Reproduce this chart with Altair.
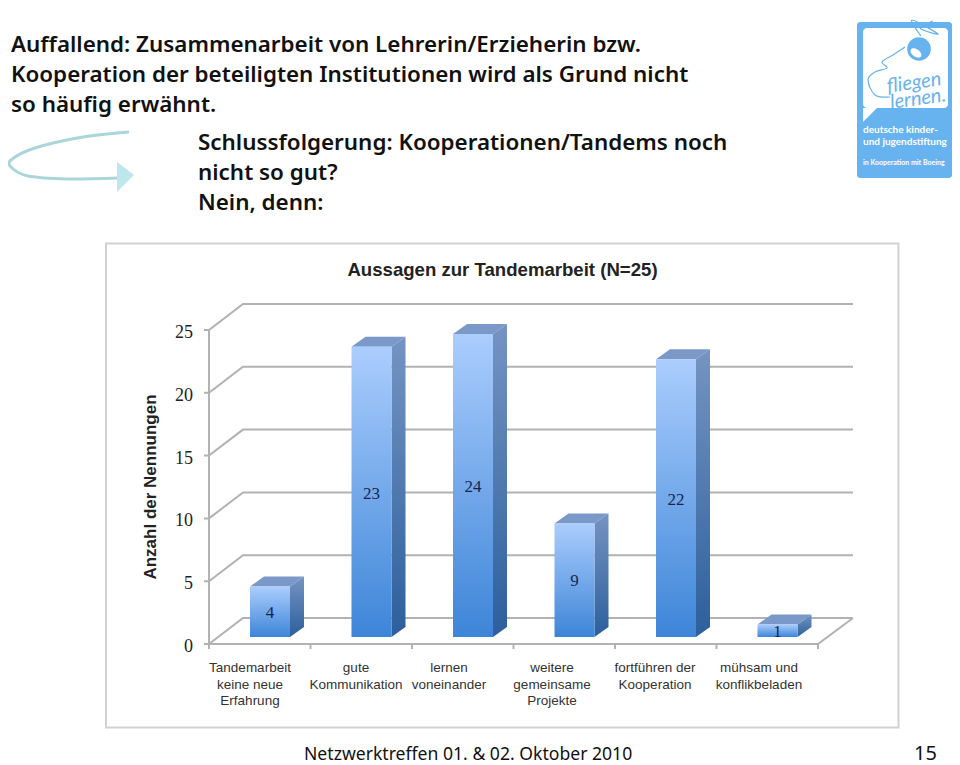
import altair as alt
import pandas as pd

# ---- chart values ----
categories = [
    ["Tandemarbeit", "keine neue", "Erfahrung"],
    ["gute", "Kommunikation"],
    ["lernen", "voneinander"],
    ["weitere", "gemeinsame", "Projekte"],
    ["fortführen der", "Kooperation"],
    ["mühsam und", "konflikbeladen"],
]
values = [4, 23, 24, 9, 22, 1]
y_ticks = [0, 5, 10, 15, 20, 25]
chart_title = "Aussagen zur Tandemarbeit (N=25)"
y_title = "Anzahl der Nennungen"
headline = [
    "Auffallend: Zusammenarbeit von Lehrerin/Erzieherin bzw.",
    "Kooperation der beteiligten Institutionen wird als Grund nicht",
    "so häufig erwähnt.",
]
conclusion = [
    "Schlussfolgerung: Kooperationen/Tandems noch",
    "nicht so gut?",
    "Nein, denn:",
]
footer = "Netzwerktreffen 01. & 02. Oktober 2010"
page_no = "15"

# ---- scale set-up: one category = 101.5 px, one count = 12.56 px ----
W, H = 944, 757
X0, Y0, CX, CY = 209 - 8, 644 - 8, 101.5, 12.56
sx = alt.Scale(domain=[-X0 / CX, (W - X0) / CX], range=[0, W], nice=False, zero=False)
sy = alt.Scale(domain=[(Y0 - H) / CY, Y0 / CY], range=[H, 0], nice=False, zero=False)
X = alt.X("x:Q", scale=sx, axis=None)
Y = alt.Y("y:Q", scale=sy, axis=None)
XE = alt.X2("x2:Q")
YE = alt.Y2("y2:Q")


def ux(px):
    return (px - 209) / CX


def uy(py):
    return (644 - py) / CY


def pts(rows):
    return [(ux(a), uy(b)) for a, b in rows]


def line_layer(groups, color="#b2b2b2", width=2.0, interpolate="linear"):
    rows = []
    for g, p in enumerate(groups):
        for o, (a, b) in enumerate(p):
            rows.append({"x": a, "y": b, "g": g, "o": o})
    return alt.Chart(pd.DataFrame(rows)).mark_line(
        color=color, strokeWidth=width, interpolate=interpolate
    ).encode(X, Y, detail="g:N", order="o:Q")


def text_layer(rows, **kw):
    df = pd.DataFrame(rows, columns=["x", "y", "t"])
    return alt.Chart(df).mark_text(**kw).encode(X, Y, text="t:N")


def rect_layer(rows, **kw):
    df = pd.DataFrame(rows, columns=["x", "x2", "y", "y2"])
    return alt.Chart(df).mark_rect(**kw).encode(X, XE, Y, YE)


def area_layer(rows, fill):
    df = pd.DataFrame(rows, columns=["g", "x", "y", "y2"])
    return alt.Chart(df).mark_area(color=fill, interpolate="linear", line=False).encode(
        X, Y, YE, detail="g:N"
    )


def grad(top, bottom):
    return alt.Gradient(
        gradient="linear",
        stops=[alt.GradientStop(color=top, offset=0), alt.GradientStop(color=bottom, offset=1)],
        x1=0, x2=0, y1=0, y2=1,
    )


layers = []

# chart frame
layers.append(rect_layer([(ux(106), ux(898.5), uy(243.5), uy(727.5))],
                         fill="white", stroke="#d2d2d2", strokeWidth=2))

# grid
DX, DY = 34 / CX, 26 / CY
n = len(categories)
grid = []
for t in y_ticks:
    grid.append([(-5 / CX, t), (0, t), (DX, t + DY), (ux(853), t + DY)])
grid.append([(0, 0), (0, 25)])
grid.append([(0, 0), (n, 0), (ux(853), DY)])
for i in range(n + 1):
    grid.append([(i, 0), (i, -5 / CY)])
layers.append(line_layer(grid))

# 3D columns
BW, BX, BASE = 40 / CX, 41 / CX, 7 / CY
dx, dy = 14 / CX, 10 / CY
front, side, top = [], [], []
for i, v in enumerate(values):
    l = i + BX
    r = l + BW
    h = BASE + v * 1.005
    front.append((l, r, h, BASE))
    side += [(i, r, h, BASE), (i, r + dx, h + dy, BASE + dy)]
    top += [(i, l, h, h), (i, l + dx, h + dy, h), (i, r, h + dy, h), (i, r + dx, h + dy, h + dy)]
layers.append(area_layer(side, grad("#7594c2", "#2c5f9c")))
layers.append(area_layer(top, "#7a99c9"))
layers.append(rect_layer(front, color=grad("#abcdfd", "#3d85d8")))

# value labels
layers.append(text_layer(
    [(i + BX + BW / 2, BASE + v / 2 - 1 / CY, str(v)) for i, v in enumerate(values)],
    font="Liberation Serif", fontSize=17, color="#14264f", baseline="middle",
))

# y tick labels and titles
layers.append(text_layer(
    [(ux(193), t - 3 / CY, str(t)) for t in y_ticks],
    font="Liberation Serif", fontSize=18, color="#222222", align="right", baseline="middle",
))
layers.append(text_layer([(ux(502.5), uy(270), chart_title)],
                         font="Liberation Sans", fontSize=18.6, fontWeight="bold",
                         color="#222222", baseline="middle"))
layers.append(text_layer([(ux(151), uy(487), y_title)],
                         font="Liberation Sans", fontSize=17, fontWeight="bold",
                         color="#222222", baseline="middle", angle=270))

# category labels
cat_centres = [250, 356, 449, 552, 655, 759]
cat_lines = [668, 685, 701]
cat_rows = []
for c, lines in zip(cat_centres, categories):
    for ly, s in zip(cat_lines, lines):
        cat_rows.append((ux(c), uy(ly), s))
layers.append(text_layer(cat_rows, font="Liberation Sans", fontSize=13.5, color="#333333", baseline="middle"))

# slide text
BODY = dict(font="Noto Sans", fontSize=22.4, fontWeight=600, color="#111111",
            align="left", baseline="middle")
layers.append(text_layer([(ux(11), uy(y), s) for y, s in zip([45, 75, 105], headline)], **BODY))
layers.append(text_layer([(ux(198), uy(y), s) for y, s in zip([143, 173, 203], conclusion)], **BODY))
layers.append(text_layer([(ux(304), uy(755), footer)], font="Noto Sans", fontSize=17.6,
                         color="#111111", align="left", baseline="middle"))
layers.append(text_layer([(ux(914), uy(754), page_no)], font="Noto Sans", fontSize=20,
                         color="#111111", align="left", baseline="middle"))

# swoosh arrow (the page margin keeps it right of x = 8)
layers.append(line_layer(
    [pts([(129, 132), (83, 137), (35, 148), (11, 160), (12, 168), (28, 176), (67, 179), (118, 178)])],
    color="#aad6da", width=3, interpolate="cardinal"))
layers.append(area_layer(
    [(0, ux(117), uy(162), uy(192)), (0, ux(134), uy(175), uy(175))], "#bde7ec"))

# logo
BLUE = "#66b3ef"
layers.append(rect_layer([(ux(857), ux(952), uy(22), uy(178))], color=BLUE, cornerRadius=3))
layers.append(rect_layer([(ux(863), ux(948), uy(28), uy(108))], color="white", cornerRadius=4))
layers.append(area_layer([(0, ux(863), uy(108), uy(122)), (0, ux(877), uy(108), uy(108))], "white"))
layers.append(line_layer(
    [pts([(905, 47), (893, 55), (882, 62), (887, 68), (875, 72), (868, 80), (875, 95), (890, 97)]),
     pts([(921, 36), (912, 20), (938, 34), (920, 28), (933, 21)])],
    color=BLUE, width=1.2, interpolate="cardinal"))
bell = pd.DataFrame({"x": [ux(919)], "y": [uy(49)]})
layers.append(alt.Chart(bell).mark_point(filled=True, size=560, shape="circle", color=BLUE, opacity=1).encode(X, Y))
inner = pd.DataFrame({"x": [ux(916)], "y": [uy(53)]})
layers.append(alt.Chart(inner).mark_point(
    filled=True, size=150, color="white", opacity=1,
    shape="M-1,0A1,.6 0 1,1 1,0A1,.6 0 1,1 -1,0Z", angle=35).encode(X, Y))
layers.append(text_layer([(ux(914), uy(83), "fliegen"), (ux(918), uy(99), "lernen.")],
                         font="Lato", fontSize=20, fontStyle="italic", color=BLUE,
                         baseline="middle", angle=352))
layers.append(text_layer([(ux(863), uy(130), "deutsche kinder-"), (ux(863), uy(142), "und jugendstiftung")],
                         font="Lato", fontSize=10, fontWeight="bold", color="white",
                         align="left", baseline="middle"))
layers.append(text_layer([(ux(863), uy(163), "in Kooperation mit Boeing")],
                         font="Lato", fontSize=7, fontWeight="bold", color="white",
                         align="left", baseline="middle"))

chart = alt.layer(*layers).properties(
    width=W, height=H, padding=0, autosize=alt.AutoSizeParams(type="none"), background="white"
).configure_view(stroke=None)

chart.save("out.html", embed_options={"renderer": "svg", "actions": False})
